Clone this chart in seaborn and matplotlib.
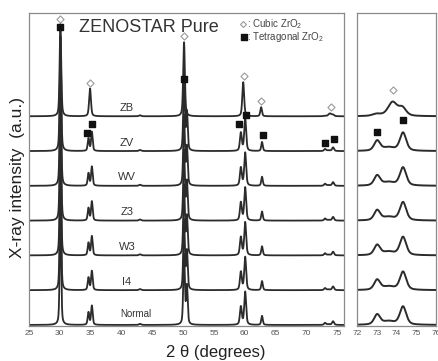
import numpy as np
import pandas as pd
import matplotlib
matplotlib.use("Agg")
import matplotlib.pyplot as plt
import seaborn as sns

# samples from bottom to top, one offset unit apart
samples = ['Normal', 'I4', 'W3', 'Z3', 'WV', 'ZV', 'ZB']

# cubic ZrO2 pattern (ZB): position, height, fwhm
cubic_pos = [30.1, 34.9, 43.0, 50.15, 59.75, 62.66, 73.0, 73.8, 74.3]
cubic_height = [2.65, 0.80, 0.03, 2.13, 0.98, 0.26, 0.012, 0.08, 0.045]
cubic_fwhm = [0.30, 0.35, 0.40, 0.32, 0.35, 0.32, 0.50, 0.55, 0.45]

# tetragonal ZrO2 pattern (all other samples)
tetra_pos = [30.1, 34.65, 35.2, 43.0, 50.15, 50.62, 59.37, 60.07, 62.8,
             73.02, 73.6, 74.33]
tetra_height = [3.3, 0.36, 0.55, 0.03, 2.0, 1.1, 0.52, 0.95, 0.26,
                0.058, 0.02, 0.105]
tetra_fwhm = [0.28, 0.30, 0.30, 0.40, 0.30, 0.30, 0.36, 0.36, 0.30,
              0.36, 0.70, 0.38]

# peak markers, main panel
cubic_mark_x = [30.05, 34.9, 50.2, 59.8, 62.7, 74.0]
cubic_mark_y = [8.79, 6.95, 8.30, 7.16, 6.44, 6.26]
tetra_mark_x = [30.05, 50.1, 34.4, 35.25, 59.0, 60.25, 63.0, 73.05, 74.5]
tetra_mark_y = [8.56, 7.07, 5.52, 5.78, 5.78, 6.03, 5.46, 5.23, 5.34]

# peak markers, zoomed panel
zoom_cubic_x = [73.8]
zoom_cubic_y = [6.75]
zoom_tetra_x = [73.02, 74.32]
zoom_tetra_y = [5.55, 5.89]

ZOOM_GAIN = 5.0


def pseudo_voigt(x, pos, height, fwhm, eta=0.45):
    y = np.zeros_like(x)
    for p, h, w in zip(pos, height, fwhm):
        d = (x - p) / (w / 2)
        y += h * (eta / (1 + d ** 2) + (1 - eta) * np.exp(-np.log(2) * d ** 2))
    return y


def build_frame(x, gain):
    rows = []
    for i, name in enumerate(samples):
        if name == 'ZB':
            y = pseudo_voigt(x, cubic_pos, cubic_height, cubic_fwhm)
        else:
            y = pseudo_voigt(x, tetra_pos, tetra_height, tetra_fwhm)
        rows.append(pd.DataFrame({'two_theta': x,
                                  'intensity': i + gain * y,
                                  'sample': name}))
    return pd.concat(rows, ignore_index=True)


sns.set_style("white")
plt.rcParams['font.family'] = ['Liberation Sans', 'DejaVu Sans']
plt.rcParams['mathtext.fontset'] = 'custom'
plt.rcParams['mathtext.rm'] = 'Liberation Sans'

fig = plt.figure(figsize=(4.38, 3.61), dpi=100)
ax = fig.add_axes([29 / 438, 35 / 361, 315 / 438, 313 / 361])
ax2 = fig.add_axes([357 / 438, 35 / 361, 79 / 438, 313 / 361])

line_color = '#2b2b2b'
palette = {name: line_color for name in samples}

main_df = build_frame(np.linspace(25, 76.1, 6000), 1.0)
sns.lineplot(data=main_df, x='two_theta', y='intensity', hue='sample',
             units='sample', estimator=None, sort=False, palette=palette,
             linewidth=1.3, legend=False, ax=ax)

zoom_df = build_frame(np.linspace(72, 76, 800), ZOOM_GAIN)
sns.lineplot(data=zoom_df, x='two_theta', y='intensity', hue='sample',
             units='sample', estimator=None, sort=False, palette=palette,
             linewidth=1.4, legend=False, ax=ax2)

# markers
diamond_kw = dict(marker='D', s=13, facecolor='white', edgecolor='#9a9a9a',
                  linewidths=0.8, zorder=4)
square_kw = dict(marker='s', s=20, color='#111111', zorder=4)
ax.scatter(cubic_mark_x, cubic_mark_y, **diamond_kw)
ax.scatter(tetra_mark_x, tetra_mark_y, **square_kw)
ax2.scatter(zoom_cubic_x, zoom_cubic_y, **diamond_kw)
ax2.scatter(zoom_tetra_x, zoom_tetra_y, **square_kw)

# sample labels
for i, name in enumerate(samples):
    if name == 'Normal':
        ax.text(42.3, i + 0.17, name, fontsize=7, color='#333333',
                ha='center', va='bottom')
    else:
        ax.text(40.9, i + 0.10, name, fontsize=8, color='#333333',
                ha='center', va='bottom')

ax.text(33.1, 8.42, 'ZENOSTAR Pure', fontsize=13, color='#333333',
        ha='left', va='baseline')

# legend drawn by hand
ax.scatter([59.75], [8.65], **dict(diamond_kw, s=9))
ax.scatter([59.95], [8.28], **dict(square_kw, s=14))
ax.text(60.3, 8.65, ': Cubic ZrO$_2$', fontsize=7, color='#444444',
        ha='left', va='center')
ax.text(60.3, 8.28, ': Tetragonal ZrO$_2$', fontsize=7, color='#444444',
        ha='left', va='center')

for a, lim, ticks in [(ax, (25, 76.1), range(25, 80, 5)),
                      (ax2, (72, 76), range(72, 77))]:
    a.set_xlim(*lim)
    a.set_ylim(-0.03, 8.97)
    a.set_xticks(list(ticks))
    a.set_yticks([])
    a.set_xlabel('')
    a.set_ylabel('')
    a.tick_params(axis='x', direction='in', length=3, width=0.6,
                  color='#888888', labelsize=6, labelcolor='#555555', pad=3)
    for spine in a.spines.values():
        spine.set_color('#8a8a8a')
        spine.set_linewidth(0.9)

fig.text(18 / 438, 1 - 178 / 361, 'X-ray intensity  (a.u.)', rotation=90,
         fontsize=12.5, color='#222222', ha='center', va='center')
fig.text(216 / 438, 1 - 352 / 361, '2 θ (degrees)', fontsize=12,
         color='#222222', ha='center', va='center')

fig.savefig('out.png', dpi=100)
